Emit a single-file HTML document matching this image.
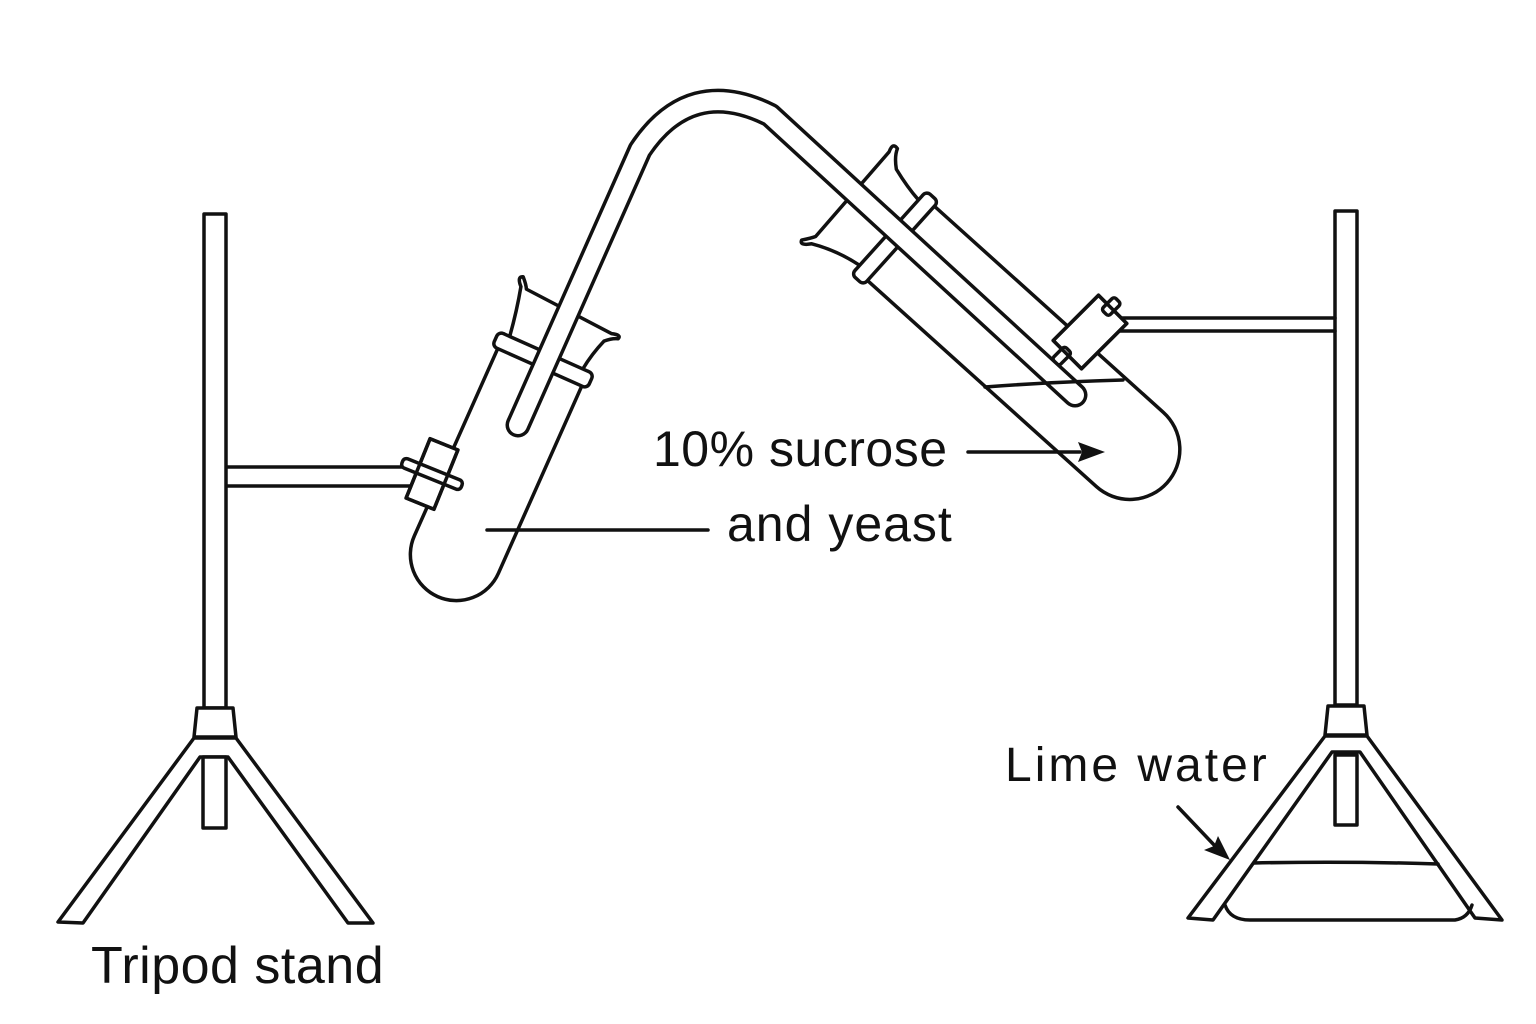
<!DOCTYPE html>
<html><head><style>
html,body{margin:0;padding:0;background:#fff;}
svg{display:block;}
text{font-family:"Liberation Sans",sans-serif;fill:#111;}
</style></head><body>
<svg width="1536" height="1024" viewBox="0 0 1536 1024" xmlns="http://www.w3.org/2000/svg">
<g fill="none" stroke="#111" stroke-width="3.5" stroke-linejoin="round" stroke-linecap="round">
<rect x="204" y="214" width="22" height="494" fill="#fff"/>
<path d="M197,708 L233,708 L236,737 L194,737 Z" fill="#fff"/>
<path d="M194,738 L58,922 L83,923 L200,757 L228,757 L348,923 L373,923 L236,738 Z" fill="#fff"/>
<rect x="203" y="757" width="23" height="71" fill="#fff"/>
<path d="M227,467 L420,467 M227,486 L418,486"/>
<rect x="1335" y="211" width="22" height="494" fill="#fff"/>
<path d="M1328,706 L1364,706 L1367,735 L1325,735 Z" fill="#fff"/>
<path d="M1325,736 L1188,918 L1213,920 L1332,752 L1360,752 L1475,918 L1502,920 L1367,736 Z" fill="#fff"/>
<rect x="1335" y="755" width="22" height="70" fill="#fff"/>
<path d="M1254,863 Q1345,861 1438,864"/>
<path d="M1225,905 Q1230,920 1250,920 L1455,920 Q1468,918 1472,905"/>
<path d="M1108,318 L1335,318 M1105,331 L1335,331"/>

<g transform="translate(543,360) rotate(24)">
<path d="M-46,-8 L-46,213 A46,46 0 0 0 46,213 L46,-8" fill="#fff"/>
<path d="M-40,-8 Q-44,-35 -50,-58 Q-58,-66 -52,-68 Q-46,-62 -44,-58 L52,-52 Q62,-55 60,-50 Q54,-48 48,-42 Q42,-25 40,-8" fill="#fff"/>
<rect x="-52" y="-8" width="104" height="16" rx="5" fill="#fff"/>
</g>
<g transform="translate(432,474) rotate(22)">
<rect x="-15" y="-32" width="30" height="64" fill="#fff"/>
<rect x="-32" y="-5" width="64" height="10" rx="4" fill="#fff"/>
<rect x="-15" y="-32" width="30" height="64"/>
</g>

<g transform="translate(895,238) rotate(-48)">
<path d="M-50,-8 L-50,316 A50,50 0 0 0 50,316 L50,-8" fill="#fff"/>
<path d="M-44,-8 Q-48,-35 -60,-58 Q-70,-66 -64,-68 Q-56,-62 -52,-60 L60,-62 Q70,-66 68,-58 Q60,-55 52,-45 Q46,-25 44,-8" fill="#fff"/>
<rect x="-56" y="-8" width="112" height="16" rx="5" fill="#fff"/>
</g>
<g transform="translate(1090,332) rotate(45)">
<rect x="-20" y="-32" width="40" height="64" fill="#fff"/>
<rect x="-8" y="-42" width="10" height="18" rx="3" fill="#fff"/>
<rect x="-8" y="28" width="10" height="18" rx="3" fill="#fff"/>
<rect x="-20" y="-32" width="40" height="64"/>
</g>

<path d="M518,425 L640,150 Q690,75 770,115 L1075,395" stroke-width="25"/>
<path d="M518,425 L640,150 Q690,75 770,115 L1075,395" stroke="#fff" stroke-width="18"/>
<path d="M985,387 Q1050,382 1123,380"/>

<path d="M487,530 L708,530"/>
<path d="M968,452 L1080,452"/>
<path d="M1178,807 L1216,847"/>
</g>
<polygon points="1105,452 1078,442 1082,452 1078,462" fill="#111"/>
<polygon points="1230,860 1204,850 1214,846 1218,836" fill="#111"/>

<text x="653" y="466" font-size="50" letter-spacing="0.5">10% sucrose</text>
<text x="727" y="541" font-size="50" letter-spacing="1">and yeast</text>
<text x="1005" y="781" font-size="48" letter-spacing="3">Lime water</text>
<text x="91" y="983" font-size="52" letter-spacing="0.5">Tripod stand</text>
</svg>
</body></html>
